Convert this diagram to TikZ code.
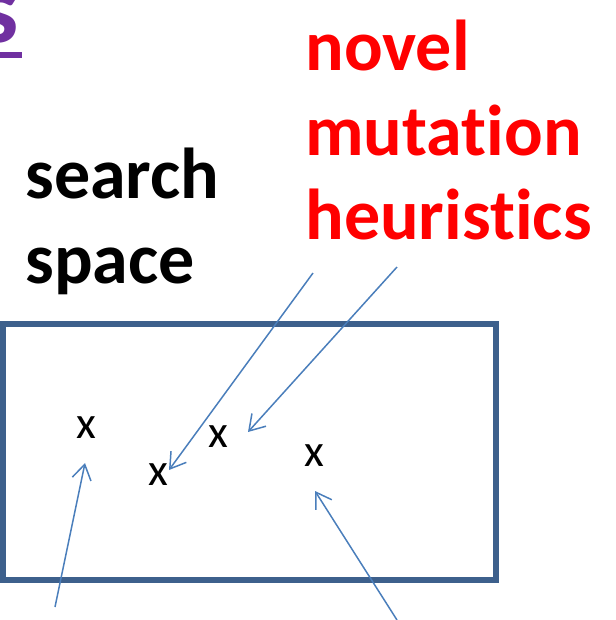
\documentclass[tikz,border=0pt]{standalone}
\usepackage{fontspec}
\setmainfont{Carlito}[RawFeature=-liga]
\usetikzlibrary{arrows.meta}
\definecolor{boxblue}{RGB}{61,96,140}
\definecolor{arrowblue}{RGB}{74,126,187}
\definecolor{titlepurple}{RGB}{112,48,160}
\definecolor{heurred}{RGB}{255,0,0}

\begin{document}
\begin{tikzpicture}[x=0.02cm, y=-0.02cm,
        heading/.style={inner sep=0pt, anchor=north west, align=left, font=\fontsize{41}{48}\selectfont\bfseries},
        point/.style={inner sep=0pt, font=\fontsize{26}{30}\selectfont},
        pointer/.style={draw=arrowblue, line width=0.85pt, -{Straight Barb[length=3mm,width=3.8mm]}},
        spacebox/.style={draw=boxblue, line width=3.4pt}
    ]
        \useasboundingbox (0,0) rectangle (616,620);

        % Title remnant
        \node[inner sep=0pt, anchor=base east, text=titlepurple, font=\fontsize{56}{60}\selectfont\bfseries] (title) at (19,42) {s};
        \draw[titlepurple, line width=3.4pt] (-10,55) -- (22,55);

        % Headings
        \node[heading] (searchspace) at (25,148) {search\\space};
        \node[heading, text=heurred] (heuristics) at (305,20) {novel\\mutation\\heuristics};

        % Search space
        \draw[spacebox] (3,324) rectangle (496,580);

        % Points
        \node[point] (p1) at (86,428) {x};
        \node[point] (p2) at (158,475) {x};
        \node[point] (p3) at (218,437) {x};
        \node[point] (p4) at (314,456) {x};

        % Arrow ends
        \coordinate (t1) at (55,607);
        \coordinate (h1) at (85,463);
        \coordinate (t2) at (313,273);
        \coordinate (h2) at (169,470);
        \coordinate (t3) at (397,267);
        \coordinate (h3) at (248,432);
        \coordinate (t4) at (397,620);
        \coordinate (h4) at (315,491);

        % Arrows
        \draw[pointer] (t1) -- (h1);
        \draw[pointer] (t2) -- (h2);
        \draw[pointer] (t3) -- (h3);
        \draw[pointer] (t4) -- (h4);
    \end{tikzpicture}
\end{document}
